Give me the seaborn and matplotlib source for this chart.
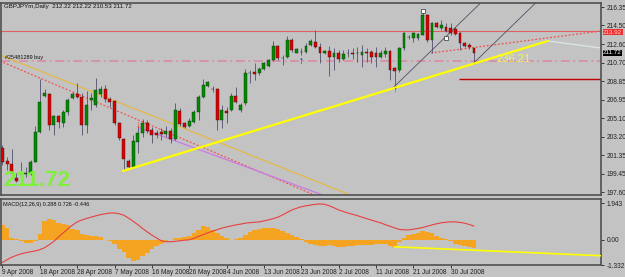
import matplotlib
matplotlib.use("Agg")
import matplotlib.pyplot as plt
import seaborn as sns
import numpy as np
import pandas as pd

# GBPJPYm daily bars
opens = [202.07, 200.75, 200.45, 199.03, 199.40, 199.43, 199.43, 200.65, 203.69, 207.33,
         207.54, 204.40, 205.31, 204.60, 205.71, 207.13, 207.54, 207.23, 204.40, 206.93,
         206.42, 207.54, 208.04, 207.03, 206.83, 204.60, 202.98, 200.75, 200.14, 202.67,
         203.59, 204.60, 203.89, 203.59, 203.69, 203.48, 203.79, 202.98, 205.81, 204.60,
         204.30, 204.70, 205.71, 207.23, 208.35, 208.06, 208.04, 204.90, 205.81, 205.92,
         207.33, 205.92, 206.63, 209.62, 209.77, 209.66, 210.07, 210.37, 210.98, 212.40,
         211.16, 211.28, 213.01, 211.69, 211.77, 211.79, 212.50, 212.80, 212.30, 211.69,
         211.89, 211.28, 211.69, 211.08, 211.67, 211.69, 211.67, 211.49, 211.79, 211.79,
         211.69, 211.28, 211.59, 211.89, 210.17, 209.97, 212.20, 213.29, 213.21, 213.21,
         213.51, 215.54, 213.01, 214.73, 214.22, 214.32, 214.22, 214.12, 213.72, 212.70,
         212.50, 212.22]
highs = [202.37, 201.16, 201.97, 199.53, 200.65, 200.14, 200.85, 204.30, 209.06, 208.04,
         207.64, 205.41, 205.41, 205.92, 207.13, 207.74, 208.65, 207.64, 207.84, 207.64,
         209.16, 208.35, 208.45, 207.23, 206.93, 204.70, 203.08, 200.95, 203.38, 204.19,
         205.01, 204.90, 204.19, 203.89, 204.09, 204.30, 204.09, 206.63, 206.12, 204.70,
         205.11, 205.92, 207.44, 209.06, 208.85, 208.35, 208.14, 206.42, 206.22, 207.64,
         208.25, 206.63, 210.07, 209.97, 210.68, 210.27, 210.78, 211.08, 212.91, 212.50,
         211.49, 213.41, 213.21, 212.20, 212.20, 212.70, 213.11, 214.02, 212.70, 211.99,
         212.40, 212.20, 211.99, 211.99, 212.10, 212.20, 212.30, 212.50, 212.20, 211.99,
         212.30, 211.99, 212.30, 211.99, 210.27, 212.30, 213.82, 213.51, 213.82, 213.72,
         215.94, 215.64, 214.83, 214.80, 215.03, 214.73, 214.73, 214.32, 213.82, 212.80,
         212.70, 212.22]
lows = [200.34, 199.84, 199.13, 198.62, 198.62, 199.13, 199.33, 200.60, 203.60, 207.23,
        203.89, 203.38, 204.09, 204.19, 205.41, 207.03, 207.13, 203.38, 203.59, 205.92,
        206.22, 207.23, 206.73, 206.22, 204.40, 202.88, 199.84, 200.04, 200.04, 201.56,
        203.18, 203.59, 202.57, 203.08, 202.88, 203.18, 202.57, 202.88, 204.30, 204.09,
        204.19, 204.60, 204.90, 207.13, 208.25, 207.74, 203.89, 204.09, 204.60, 205.81,
        206.63, 205.71, 206.42, 208.65, 208.95, 209.46, 209.97, 210.27, 210.88, 210.98,
        210.47, 211.18, 211.79, 211.69, 211.49, 211.69, 212.40, 212.20, 210.68, 211.59,
        209.36, 209.97, 210.78, 210.98, 211.28, 211.08, 210.78, 210.27, 210.78, 210.68,
        210.27, 211.18, 211.28, 208.95, 208.14, 209.77, 211.99, 213.11, 212.80, 213.01,
        213.51, 212.80, 211.69, 214.25, 214.02, 213.82, 213.51, 213.51, 211.99, 212.30,
        212.10, 210.53]
closes = [200.65, 200.45, 199.53, 198.72, 199.45, 199.53, 200.65, 203.69, 206.73, 207.64,
          204.40, 205.31, 204.70, 205.71, 206.93, 207.54, 207.23, 204.40, 206.42, 207.13,
          207.94, 208.04, 207.03, 206.73, 204.60, 203.08, 200.95, 200.14, 202.78, 203.59,
          204.60, 203.79, 203.38, 203.38, 203.48, 203.79, 202.98, 205.92, 204.50, 204.19,
          204.80, 205.71, 207.23, 208.45, 208.75, 208.02, 204.90, 205.92, 205.61, 207.33,
          206.73, 206.42, 209.66, 209.66, 209.56, 210.07, 210.68, 210.98, 212.40, 211.18,
          211.20, 213.01, 211.99, 212.10, 211.81, 212.40, 212.91, 212.30, 211.69, 211.89,
          211.28, 211.69, 211.08, 211.59, 211.71, 211.59, 211.71, 211.79, 211.69, 211.28,
          211.28, 211.69, 211.89, 209.97, 209.87, 212.20, 213.72, 213.33, 213.72, 213.61,
          215.54, 213.01, 214.73, 214.32, 214.53, 213.92, 213.72, 213.61, 212.70, 212.40,
          212.30, 211.72]

# MACD(12,26,9): orange histogram and red signal line
macd_hist = [0.8, 0.6, 0.1, 0.05, -0.05, -0.15, -0.15, -0.05, 0.3, 1.0,
             1.1, 1.05, 0.9, 0.85, 0.8, 0.55, 0.5, 0.3, 0.25, 0.2,
             0.2, 0.15, 0.0, -0.05, -0.2, -0.5, -0.65, -0.95, -1.1, -1.05,
             -0.85, -0.7, -0.5, -0.35, -0.2, -0.05, 0.0, 0.1, 0.1, 0.15,
             0.2, 0.35, 0.5, 0.75, 0.7, 0.5, 0.35, 0.2, 0.1, 0.0,
             0.05, 0.1, 0.25, 0.4, 0.5, 0.55, 0.6, 0.6, 0.65, 0.55,
             0.45, 0.35, 0.25, 0.15, 0.05, -0.1, -0.2, -0.3, -0.35, -0.35,
             -0.3, -0.35, -0.4, -0.4, -0.35, -0.35, -0.3, -0.3, -0.25, -0.25,
             -0.2, -0.2, -0.2, -0.35, -0.4, -0.1, 0.1, 0.25, 0.3, 0.35,
             0.45, 0.4, 0.35, 0.2, 0.1, 0.05, -0.05, -0.2, -0.3, -0.35,
             -0.4, -0.446]
macd_signal = [-1.20, -1.05, -0.92, -0.82, -0.74, -0.68, -0.63, -0.59, -0.52, -0.42,
               -0.26, -0.08, 0.15, 0.37, 0.58, 0.78, 0.95, 1.05, 1.13, 1.20,
               1.27, 1.33, 1.38, 1.42, 1.42, 1.38, 1.30, 1.15, 0.98, 0.80,
               0.60, 0.42, 0.25, 0.10, -0.05, -0.10, -0.10, -0.08, -0.05, -0.02,
               0.00, 0.08, 0.18, 0.28, 0.37, 0.46, 0.54, 0.62, 0.68, 0.74,
               0.79, 0.83, 0.88, 0.91, 0.93, 0.95, 1.00, 1.06, 1.12, 1.20,
               1.32, 1.45, 1.58, 1.67, 1.75, 1.80, 1.84, 1.88, 1.90, 1.88,
               1.80, 1.70, 1.58, 1.50, 1.42, 1.35, 1.28, 1.20, 1.12, 1.05,
               0.97, 0.90, 0.80, 0.72, 0.63, 0.55, 0.53, 0.53, 0.56, 0.60,
               0.65, 0.72, 0.79, 0.85, 0.90, 0.93, 0.95, 0.95, 0.92, 0.88,
               0.81, 0.726]

date_labels = ['9 Apr 2008', '18 Apr 2008', '28 Apr 2008', '7 May 2008', '16 May 2008',
               '26 May 2008', '4 Jun 2008', '13 Jun 2008', '23 Jun 2008', '2 Jul 2008',
               '11 Jul 2008', '21 Jul 2008', '30 Jul 2008']
date_ticks = [0, 8, 16, 24, 32, 40, 48, 56, 64, 72, 80, 88, 96]
price_ticks = [216.35, 214.50, 212.60, 210.70, 208.85, 206.95, 205.10, 203.20, 201.35, 199.45, 197.60]
macd_ticks = [1.943, 0.0, -1.332]

# drawn objects (bar index, price)
res_level = 213.92
order_level = 210.88
stop_level = 209.06
stop_start = 97.8
up_trend = ([25.8, 116.8], [199.73, 212.91])
up_trend_tail = ([116.8, 128.2], [212.91, 212.20])
gold_trend = ([-0.54, 73.99], [211.49, 197.40])
red_trend = ([-0.54, 66.3], [210.88, 197.40])
violet_trend = ([29.5, 68.6], [204.09, 197.30])
red_trend2 = ([91.8, 128.2], [211.69, 213.92])
channel_a = ([83.6, 102.4], [208.14, 216.76])
channel_b = ([100.7, 114.2], [210.57, 216.76])
macd_trend = ([84.0, 128.2], [-0.37, -0.84])
fractal_x = [90, 95]
fractal_y = [215.90, 213.20]

sns.set_theme(style="ticks")
plt.rcParams['font.family'] = ['Liberation Sans', 'DejaVu Sans']

bg = '#C3C3C3'
fig = plt.figure(figsize=(6.25, 2.77), dpi=100)
fig.patch.set_facecolor(bg)
W, H = 625.0, 277.0
ax = fig.add_axes([1 / W, 1 - 195 / H, 600 / W, 192 / H])
ax2 = fig.add_axes([1 / W, 1 - 265 / H, 600 / W, 66 / H])

df = pd.DataFrame({'o': opens, 'h': highs, 'l': lows, 'c': closes})
df['i'] = np.arange(len(df))
up = df['c'] >= df['o']

for a in (ax, ax2):
    a.set_facecolor(bg)
    for s in a.spines.values():
        s.set_color('#505050')
        s.set_linewidth(1.2)
    a.set_xlim(-0.32, 128.2)

# horizontal levels and trend lines
ax.axhline(res_level, color='#E06060', lw=0.8, zorder=1)
ax.axhline(order_level, color='#D890A8', lw=1.3, ls=(0, (5, 2, 1, 2)), zorder=1)
ax.hlines(stop_level, stop_start, 128.2, color='#C00000', lw=1.0, zorder=1)
ax.plot(*gold_trend, color='#E8B838', lw=0.8, zorder=1)
ax.plot(*red_trend, color='#F05050', lw=0.9, ls=(0, (1.5, 1.5)), zorder=1)
ax.plot(*violet_trend, color='#C880E0', lw=1.0, zorder=1)
ax.plot(*red_trend2, color='#F05050', lw=0.9, ls=(0, (1.5, 1.5)), zorder=1)
ax.plot(*channel_a, color='#505068', lw=0.6, zorder=1)
ax.plot(*channel_b, color='#505068', lw=0.6, zorder=1)
ax.plot(*up_trend_tail, color='#DDE6E6', lw=0.9, zorder=1)

# candles
ax.vlines(df['i'], df['l'], df['h'], color='#505070', lw=0.6, zorder=2)
body_lo = df[['o', 'c']].min(axis=1)
body_h = (df['c'] - df['o']).abs().clip(lower=0.06)
ax.bar(df['i'][up], body_h[up], bottom=body_lo[up], width=0.62,
       color='#008C00', edgecolor='#103010', linewidth=0.3, zorder=3)
ax.bar(df['i'][~up], body_h[~up], bottom=body_lo[~up], width=0.62,
       color='#E00000', edgecolor='#301010', linewidth=0.3, zorder=3)

ax.plot(*up_trend, color='#FFFF00', lw=1.6, zorder=4)
ax.plot(fractal_x, fractal_y, 's', ms=2.4, mfc='white', mec='#303030', mew=0.5, zorder=5)
ax.text(64, 210.90, '\u2191', color='#0000E0', fontsize=7, fontweight='bold',
        ha='center', va='center', zorder=5)
ax.text(84, 207.95, '\u2191', color='#0000E0', fontsize=5, fontweight='bold',
        ha='center', va='center', zorder=5)
ax.text(29, 204.35, '\u2193', color='#F02020', fontsize=7, fontweight='bold',
        ha='center', va='center', zorder=5)

ax.set_ylim(197.30, 216.76)
ax.yaxis.tick_right()
ax.set_yticks(price_ticks)
ax.set_yticklabels(['%.2f' % t for t in price_ticks])
ax.tick_params(axis='y', length=2, width=0.6, pad=2, labelsize=4.7, colors='#202020')
ax.set_xticks([])

ax.text(0.005, 0.984, 'GBPJPYm,Daily  212.22 212.22 210.53 211.72', transform=ax.transAxes,
        fontsize=4.4, ha='left', va='center', color='#101010')
ax.text(0.5, 211.25, '#25481289 buy', fontsize=4.0, ha='left', va='center', color='#101010')
ax.text(105.9, 211.05, '236.21', fontsize=8, ha='left', va='center', color='#F2F25A', zorder=6)
ax.text(0.003, 0.075, '211.72', transform=ax.transAxes, fontsize=16, fontweight='bold',
        ha='left', va='center', color='#7EF03A', zorder=6)

# price boxes on the right scale; the red one sits a touch lower so it clears 214.50
for lvl, ypos, fc, tc in [(res_level, res_level - 0.12, '#F03030', '#FFD0D0'),
                          (closes[-1], closes[-1], '#000000', '#FFFFFF')]:
    ax.annotate('%.2f' % lvl, xy=(1.0, ypos), xycoords=('axes fraction', 'data'),
                xytext=(1.5, 0), textcoords='offset points', fontsize=4.5, color=tc,
                ha='left', va='center',
                bbox=dict(boxstyle='square,pad=0.08', fc=fc, ec='none'), zorder=7,
                annotation_clip=False)

# MACD panel
ax2.bar(np.arange(len(macd_hist)), macd_hist, width=1.0, color='#F4A420', linewidth=0, zorder=2)
sns.lineplot(x=np.arange(len(macd_signal)), y=macd_signal, ax=ax2, color='#E84040',
             lw=0.8, zorder=3)
ax2.plot(*macd_trend, color='#FFFF00', lw=1.2, zorder=4)
ax2.set_ylim(-1.332, 2.16)
ax2.yaxis.tick_right()
ax2.set_yticks(macd_ticks)
ax2.set_yticklabels(['1.943', '0.00', '-1.332'])
ax2.tick_params(axis='y', length=2, width=0.6, pad=2, labelsize=4.7, colors='#202020')
ax2.set_xticks(date_ticks)
ax2.set_xticklabels(date_labels, ha='left')
ax2.tick_params(axis='x', length=2, width=0.6, pad=1, labelsize=4.7, colors='#202020')
ax2.text(0.003, 0.92, 'MACD(12,26,9) 0.288 0.726 -0.446', transform=ax2.transAxes,
         fontsize=4.0, ha='left', va='center', color='#101010')
ax2.set_ylabel('')

fig.savefig('out.png', dpi=100, facecolor=bg)
